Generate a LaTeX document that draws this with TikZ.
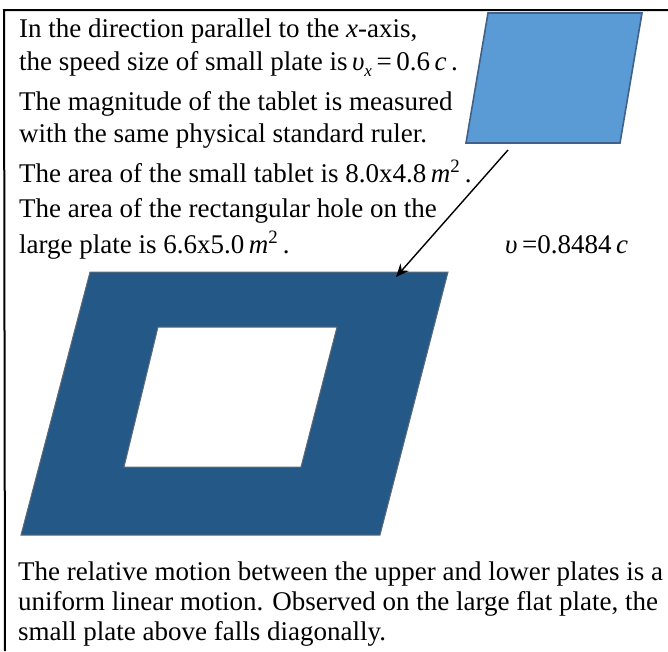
\documentclass[tikz,border=0pt]{standalone}
\usepackage{fontspec}
\setmainfont{Liberation Serif}
\usetikzlibrary{arrows.meta}
\definecolor{smallfill}{HTML}{5B9BD5}
\definecolor{smalledge}{HTML}{41608A}
\definecolor{bigfill}{HTML}{245887}
\definecolor{bigedge}{HTML}{5E6B78}
\tikzset{
  txt/.style={anchor=base west, inner sep=0pt, font=\fontsize{27}{30}\selectfont},
  frameline/.style={line width=2pt, black},
}
\newcommand{\ups}{\textit{υ}}
\begin{document}
\begin{tikzpicture}[x=1pt,y=-1pt]
\useasboundingbox (0,0) rectangle (668,651);
% frame
\coordinate (f1) at (4,10);
\coordinate (f2) at (668,10);
\coordinate (f3) at (5,651);
\draw[frameline] (f2) -- (f1) -- (f3);
% small plate
\draw[fill=smallfill, draw=smalledge, line width=1.6pt]
  (488,13) coordinate (s1) -- (642,13) coordinate (s2) -- (620,143) coordinate (s3) -- (466,143) coordinate (s4) -- cycle;
% large plate with hole
\draw[fill=bigfill, draw=bigedge, line width=1pt, even odd rule]
  (90,272) -- (448,272) -- (380,535) -- (21,535) -- cycle
  (158,327) -- (337,327) -- (301,467) -- (124,467) -- cycle;
% arrow
\coordinate (a1) at (508,150);
\coordinate (a2) at (396,277);
\draw[line width=1.4pt, -{Stealth[length=13pt,width=11pt]}] (a1) -- (a2);
% texts
\node[txt] (t1) at (19,37.7) {In the direction parallel to the \textit{x}-axis,};
\node[txt] (t2) at (19,70) {the speed size of small plate is\,\ups\raisebox{-6pt}{\fontsize{17}{17}\selectfont\textit{x}}\,=\,0.6\,\textit{c}\,.};
\node[txt] (t3) at (19,110) {The magnitude of the tablet is measured};
\node[txt] (t4) at (19,142) {with the same physical standard ruler.};
\node[txt] (t5) at (19,182) {The area of the small tablet is 8.0x4.8\,\textit{m}\textsuperscript{2}\,.};
\node[txt] (t6) at (19,217) {The area of the rectangular hole on the};
\node[txt] (t7) at (19,253) {large plate is 6.6x5.0\,\textit{m}\textsuperscript{2}\,.};
\node[txt] (t8) at (505,253) {\ups\,=0.8484\,\textit{c}};
\node[txt] (b1) at (18,580.5) {The relative motion between the upper and lower plates is a};
\node[txt] (b2) at (18,610.5) {uniform linear motion. Observed on the large flat plate, the};
\node[txt] (b3) at (18,640.5) {small plate above falls diagonally.};
\end{tikzpicture}
\end{document}
